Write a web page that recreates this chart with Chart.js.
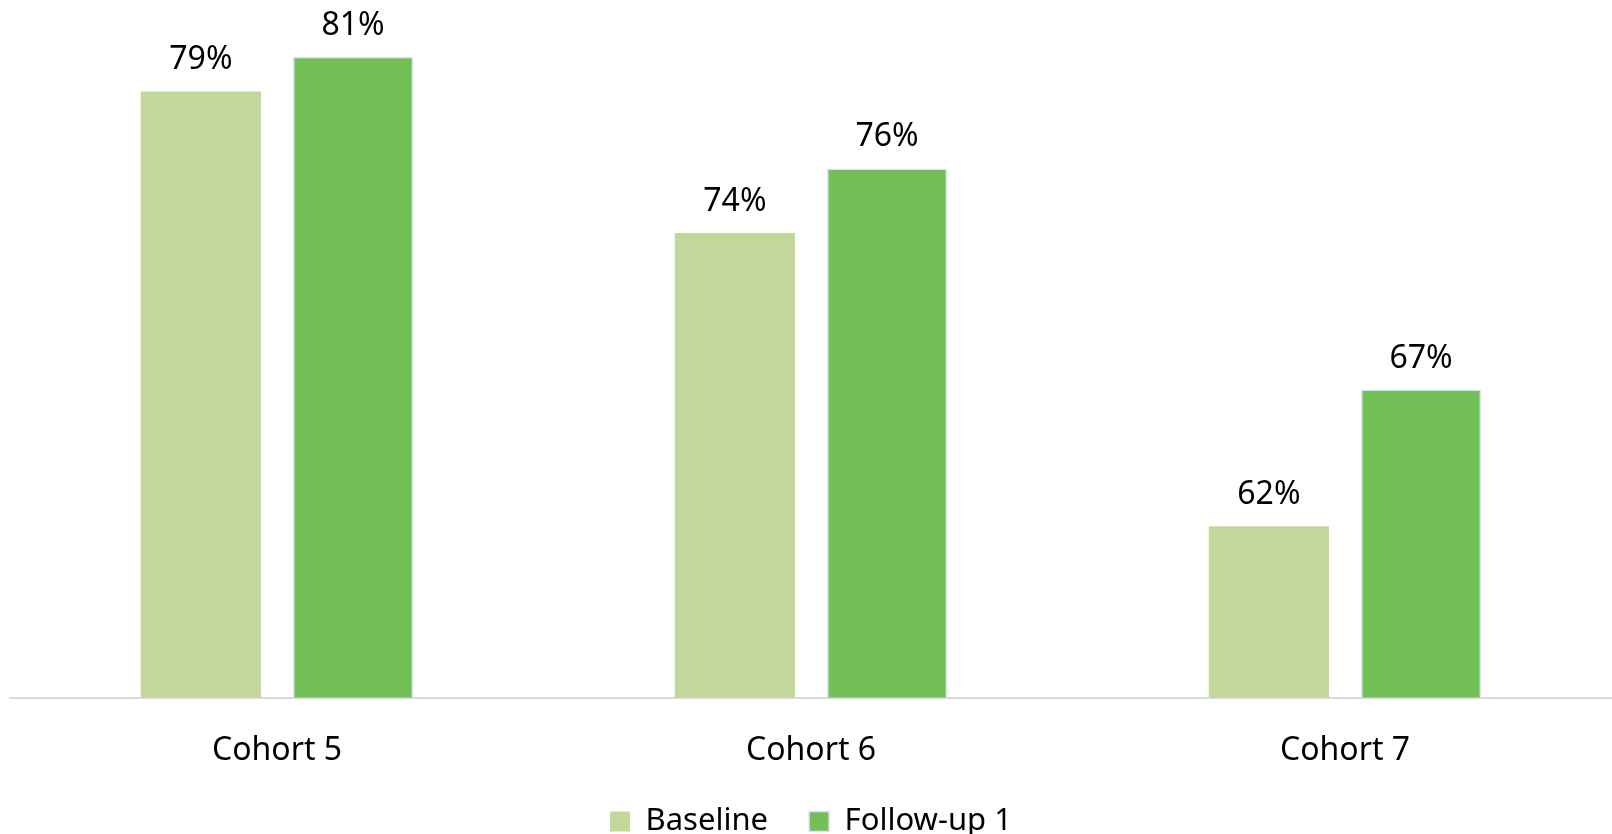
<!DOCTYPE html>
<html>
<head>
<meta charset="utf-8">
<script src="https://cdn.jsdelivr.net/npm/chart.js@4/dist/chart.umd.min.js"></script>
<style>
  html, body { margin: 0; padding: 0; background: #fff; }
  #wrap { width: 1612px; height: 834px; }
</style>
</head>
<body>
<div id="wrap"><canvas id="c" width="1612" height="834"></canvas></div>
<script>
// values (labels show the rounded percent)
const cohorts = ['Cohort 5', 'Cohort 6', 'Cohort 7'];
const baseline = [79.4, 73.7, 61.9];
const followUp = [80.8, 76.3, 67.4];
const seriesNames = ['Baseline', 'Follow-up 1'];

const FONT = "'Noto Sans', sans-serif";

// draws "79%" etc above each bar
const barLabels = {
    id: 'barLabels',
    afterDatasetsDraw(chart) {
        const ctx = chart.ctx;
        ctx.save();
        ctx.font = '32px ' + FONT;
        ctx.fillStyle = '#000';
        ctx.textAlign = 'center';
        ctx.textBaseline = 'alphabetic';
        chart.data.datasets.forEach((ds, i) => {
            chart.getDatasetMeta(i).data.forEach((bar, j) => {
                ctx.fillText(Math.round(ds.data[j]) + '%', bar.x, bar.y - 22);
            });
        });
        ctx.restore();
    }
};

const ctx = document.getElementById('c').getContext('2d');
new Chart(ctx, {
    type: 'bar',
    data: {
        labels: cohorts,
        datasets: [
            {
                label: seriesNames[0],
                data: baseline,
                backgroundColor: '#C4D79B',
                borderWidth: 0
            },
            {
                label: seriesNames[1],
                data: followUp,
                backgroundColor: '#72BF56',
                borderColor: '#DAE3F3',
                borderWidth: 1.5
            }
        ]
    },
    options: {
        responsive: false,
        animation: false,
        devicePixelRatio: 1,
        layout: { padding: { top: 2, left: 10, right: 0, bottom: -13 } },
        datasets: {
            bar: { categoryPercentage: 0.57, barPercentage: 0.79 }
        },
        scales: {
            x: {
                grid: { display: false },
                border: { display: true, color: '#D9D9D9', width: 2 },
                ticks: { color: '#000', padding: 26, font: { family: FONT, size: 32 } }
            },
            y: {
                display: false,
                min: 55,
                max: 83
            }
        },
        plugins: {
            legend: {
                position: 'bottom',
                labels: {
                    color: '#000',
                    boxWidth: 20,
                    boxHeight: 20,
                    padding: 10,
                    font: { family: FONT, size: 31 },
                    // extra space after all but the last entry, like the original
                    generateLabels(chart) {
                        const items = Chart.defaults.plugins.legend.labels.generateLabels(chart);
                        items.forEach((it, i) => {
                            if (i < items.length - 1) it.text = it.text + '\u2003';
                        });
                        return items;
                    }
                }
            },
            tooltip: { enabled: false }
        }
    },
    plugins: [barLabels]
});
</script>
</body>
</html>
